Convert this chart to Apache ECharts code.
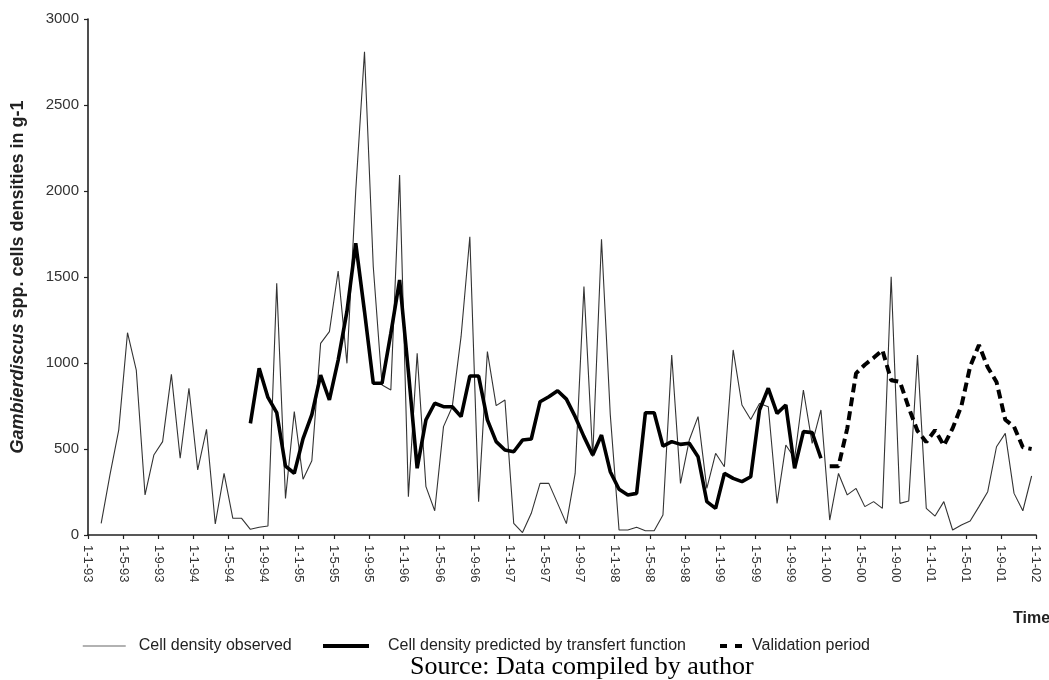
<!DOCTYPE html>
<html>
<head>
<meta charset="utf-8">
<script src="https://cdn.jsdelivr.net/npm/echarts@6/dist/echarts.min.js"></script>
<style>
  html, body { margin: 0; padding: 0; background: #fff; }
  #chart { width: 1049px; height: 680px; }
</style>
</head>
<body>
<div id="chart"></div>
<script>
// Tick labels every 4 months (d-m-yy), Jan 1993 .. Jan 2002
const tickLabels = ['1-1-93','1-5-93','1-9-93','1-1-94','1-5-94','1-9-94','1-1-95','1-5-95','1-9-95',
  '1-1-96','1-5-96','1-9-96','1-1-97','1-5-97','1-9-97','1-1-98','1-5-98','1-9-98',
  '1-1-99','1-5-99','1-9-99','1-1-00','1-5-00','1-9-00','1-1-01','1-5-01','1-9-01','1-1-02'];

// Monthly (mid-month) samples; start = month index counted from Jan 1993
const observedStart = 1;   // Feb 1993
const observed = [68,350,610,1176,959,233,465,543,934,446,853,378,614,64,358,97,97,33,45,52,
  1463,213,717,324,432,1114,1182,1535,998,2000,2810,1560,872,843,2093,223,1056,281,141,630,
  746,1153,1734,194,1066,752,785,68,14,126,300,300,184,66,358,1444,455,1719,700,29,
  29,45,25,25,116,1047,300,552,688,271,475,397,1076,756,672,765,746,184,523,446,
  843,533,727,87,358,233,271,165,194,155,1502,184,198,1047,155,110,194,29,58,81,
  165,252,513,591,242,141,343];

const predictedStart = 18; // Jul 1994
const predicted = [649,969,800,712,400,359,560,700,930,785,1017,1300,1696,1300,882,882,1172,1483,950,388,
  669,766,746,746,688,924,924,669,543,494,484,552,558,775,804,839,790,
  688,572,465,581,368,266,233,242,711,711,517,543,527,533,455,194,155,
  358,329,310,339,727,853,707,756,388,601,595,446];

const validationStart = 84; // Jan 2000
const validation = [400,400,620,940,990,1030,1075,900,890,740,605,540,610,520,620,750,980,1105,975,890,670,630,510,500];

const seriesNames = ['Cell density observed', 'Cell density predicted by transfert function', 'Validation period'];

function toPoints(start, values) {
  return values.map((v, i) => [start + i + 0.5, v]);
}

const FONT = 'Liberation Sans, Arial, sans-serif';
const legendText = { fontSize: 16, color: '#222', fontFamily: FONT };

const chart = echarts.init(document.getElementById('chart'));
chart.setOption({
  animation: false,
  backgroundColor: '#ffffff',
  grid: { left: 88, right: 13, top: 19, bottom: 145, containLabel: false },
  xAxis: {
    type: 'value', min: 0, max: 108, interval: 4,
    axisLine: { show: true, onZero: false, lineStyle: { color: '#222', width: 1.6 } },
    axisTick: { show: true, length: 4, lineStyle: { color: '#222', width: 1.2 } },
    splitLine: { show: false },
    axisLabel: {
      rotate: -90, margin: 10, fontSize: 13, color: '#333', fontFamily: FONT,
      formatter: v => tickLabels[Math.round(v / 4)] || ''
    }
  },
  yAxis: {
    type: 'value', min: 0, max: 3000, interval: 500,
    axisLine: { show: true, lineStyle: { color: '#222', width: 1.6 } },
    axisTick: { show: true, length: 4, lineStyle: { color: '#222', width: 1.2 } },
    splitLine: { show: false },
    axisLabel: { fontSize: 15, color: '#333', margin: 9, fontFamily: FONT, formatter: v => String(v) },
    name: '{i|Gambierdiscus} spp. cells densities in g-1',
    nameLocation: 'middle', nameGap: 61,
    nameTextStyle: {
      fontSize: 18, fontWeight: 'bold', color: '#222', fontFamily: FONT,
      rich: { i: { fontSize: 18, fontWeight: 'bold', fontStyle: 'italic', color: '#222', fontFamily: FONT } }
    }
  },
  legend: [
    { left: 77, top: 633, itemWidth: 43, itemHeight: 10, itemStyle: { opacity: 0 },
      textStyle: Object.assign({ padding: [0, 0, 0, 8] }, legendText),
      data: [{ name: seriesNames[0], lineStyle: { color: '#999', width: 1.5 } }] },
    { left: 316, top: 633, itemWidth: 46, itemHeight: 10, itemStyle: { opacity: 0 },
      textStyle: Object.assign({ padding: [0, 0, 0, 14] }, legendText),
      data: [{ name: seriesNames[1], lineStyle: { color: '#000', width: 4 } }] },
    { left: 713, top: 633, itemWidth: 27, itemHeight: 10, itemStyle: { opacity: 0 },
      textStyle: Object.assign({ padding: [0, 0, 0, 0] }, legendText),
      data: [{ name: seriesNames[2], lineStyle: { color: '#000', width: 4, type: [7, 8] } }] }
  ],
  graphic: [
    { type: 'text', left: 1013, top: 611,
      style: { text: 'Time', fontSize: 16, fontWeight: 'bold', fill: '#222', fontFamily: FONT } },
    { type: 'text', left: 410, top: 654,
      style: { text: 'Source: Data compiled by author', fontSize: 26, fill: '#000', fontFamily: 'Liberation Serif, Times New Roman, serif' } }
  ],
  series: [
    { name: seriesNames[0], type: 'line', symbol: 'none', data: toPoints(observedStart, observed),
      lineStyle: { color: '#333', width: 1.1 }, itemStyle: { color: '#333' }, z: 2 },
    { name: seriesNames[1], type: 'line', symbol: 'none', data: toPoints(predictedStart, predicted),
      lineStyle: { color: '#000', width: 3.6 }, itemStyle: { color: '#000' }, z: 3 },
    { name: seriesNames[2], type: 'line', symbol: 'none', data: toPoints(validationStart, validation),
      lineStyle: { color: '#000', width: 4, type: [9, 5] }, itemStyle: { color: '#000' }, z: 3 }
  ]
});
</script>
</body>
</html>
